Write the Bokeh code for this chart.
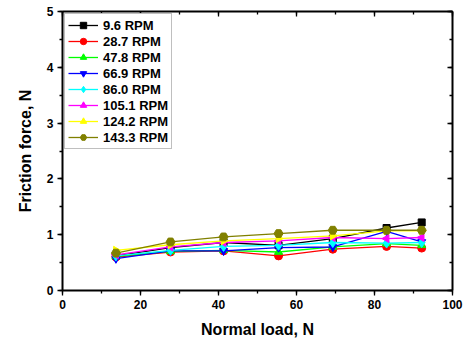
import numpy as np
from bokeh.plotting import figure
from bokeh.models import (Range1d, LinearAxis, SingleIntervalTicker, Legend, LegendItem,
                          CustomJSTickFormatter)
from bokeh.embed import file_html
from bokeh.resources import INLINE

loads = [13.7, 27.7, 41.3, 55.4, 69.3, 83.1, 92.1]
series_names = ["9.6 RPM", "28.7 RPM", "47.8 RPM", "66.9 RPM",
                "86.0 RPM", "105.1 RPM", "124.2 RPM", "143.3 RPM"]
f_96 = [0.62, 0.77, 0.86, 0.81, 0.93, 1.12, 1.22]
f_287 = [0.60, 0.69, 0.71, 0.62, 0.74, 0.79, 0.76]
f_478 = [0.61, 0.70, 0.72, 0.69, 0.78, 0.84, 0.81]
f_669 = [0.57, 0.71, 0.71, 0.77, 0.78, 1.06, 0.87]
f_860 = [0.62, 0.72, 0.79, 0.81, 0.86, 0.85, 0.86]
f_1051 = [0.64, 0.78, 0.86, 0.89, 0.95, 0.93, 0.95]
f_1242 = [0.72, 0.82, 0.89, 0.93, 0.98, 1.07, 1.07]
f_1433 = [0.67, 0.87, 0.96, 1.02, 1.08, 1.08, 1.08]
series_values = [f_96, f_287, f_478, f_669, f_860, f_1051, f_1242, f_1433]

colors = ["#000000", "#FF0000", "#00FF00", "#0000FF",
          "#00FFFF", "#FF00FF", "#FFFF00", "#808000"]
markers = ["square", "circle", "triangle", "inverted_triangle",
           "diamond", "triangle", "triangle", "hex"]
angles = [0, 0, 0, 0, 0, np.pi / 2, -np.pi / 2, 0]
sizes = [7, 8, 8, 8, 10, 8, 8, 9]

FONT = "Liberation Sans"

p = figure(width=468, height=341, output_backend="svg", toolbar_location=None,
           x_range=Range1d(0, 100), y_range=Range1d(0, 5),
           min_border_left=62, min_border_right=16, min_border_top=11,
           min_border_bottom=51)
p.outline_line_color = None
p.grid.visible = False
p.background_fill_color = "white"
p.border_fill_color = "white"

def style_axis(ax, outward=True):
    ax.axis_line_width = 2
    ax.axis_line_color = "black"
    ax.major_tick_line_color = "black"
    ax.minor_tick_line_color = "black"
    ax.major_tick_line_width = 1.3
    ax.minor_tick_line_width = 1.3
    if outward:
        ax.major_tick_out = 5
        ax.major_tick_in = 0
        ax.minor_tick_out = 3
        ax.minor_tick_in = 0
    else:
        ax.major_tick_out = 0
        ax.major_tick_in = 5
        ax.minor_tick_out = 0
        ax.minor_tick_in = 3
    ax.major_label_text_font = FONT
    ax.major_label_text_font_style = "bold"
    ax.major_label_text_font_size = "12px"
    ax.major_label_text_color = "black"
    ax.axis_label_text_font = FONT
    ax.axis_label_text_font_style = "bold"
    ax.axis_label_text_font_size = "16px"
    ax.axis_label_text_color = "black"

xax = p.xaxis[0]
xax.ticker = SingleIntervalTicker(interval=20, num_minor_ticks=2)
xax.axis_label = "Normal load, N"
xax.axis_label_standoff = 9
xax.major_label_standoff = 4
style_axis(xax)

yax = p.yaxis[0]
yax.ticker = SingleIntervalTicker(interval=1, num_minor_ticks=2)
yax.axis_label = "Friction force, N"
yax.axis_label_standoff = 10
yax.major_label_standoff = 4
style_axis(yax)

blank = CustomJSTickFormatter(code="return ''")
top = LinearAxis(ticker=SingleIntervalTicker(interval=20, num_minor_ticks=2),
                 formatter=blank)
style_axis(top, outward=False)
top.major_label_standoff = 0
top.major_label_text_font_size = "1px"
p.add_layout(top, "above")
right = LinearAxis(ticker=SingleIntervalTicker(interval=1, num_minor_ticks=2),
                   formatter=blank)
style_axis(right, outward=False)
right.major_label_standoff = 0
right.major_label_text_font_size = "1px"
p.add_layout(right, "right")

items = []
for name, vals, c, m, a, s in zip(series_names, series_values, colors, markers, angles, sizes):
    ln = p.line(loads, vals, line_color=c, line_width=1.3)
    sc = p.scatter(loads, vals, marker=m, size=s, angle=a, angle_units="rad",
                   fill_color=c, line_color=c)
    items.append(LegendItem(label=name, renderers=[ln, sc]))

legend = Legend(items=items, location="top_left", margin=2,
                padding=3, spacing=0, glyph_width=30, glyph_height=16,
                label_height=16, label_standoff=5,
                label_text_font=FONT, label_text_font_style="bold",
                label_text_font_size="13px", label_text_color="black",
                border_line_color="#808080", border_line_width=1.5,
                background_fill_alpha=1.0)
p.add_layout(legend, "center")

open("out.html", "w").write(file_html(p, INLINE))
